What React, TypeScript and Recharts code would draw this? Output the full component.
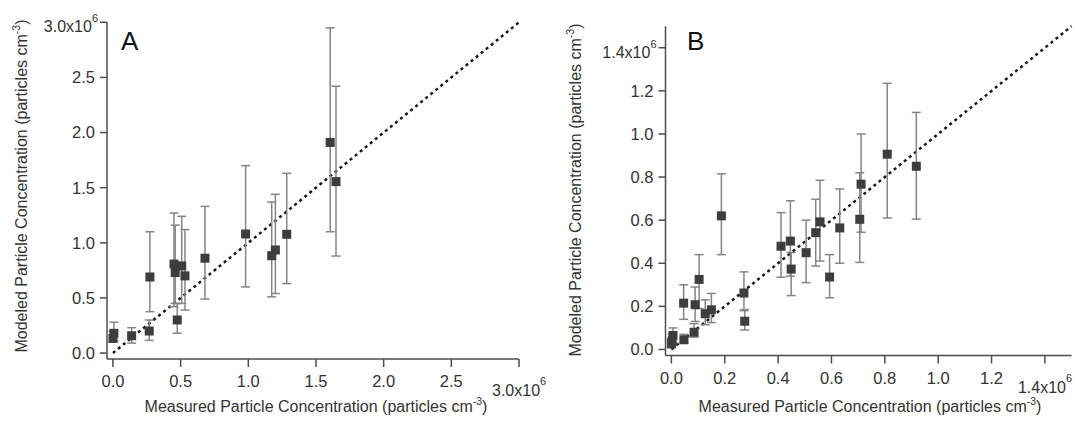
import React from "react";
import {
  ScatterChart,
  Scatter,
  XAxis,
  YAxis,
  ErrorBar,
  ReferenceLine
} from "recharts";

// Panel A: measured vs modeled particle concentration (particles cm-3)
const aMeasured = [0.007e6, 0.0, 0.138e6, 0.268e6, 0.273e6, 0.451e6, 0.46e6, 0.475e6, 0.508e6, 0.532e6, 0.68e6, 0.98e6, 1.173e6, 1.2e6, 1.284e6, 1.605e6, 1.648e6];
const aModeled = [0.179e6, 0.133e6, 0.157e6, 0.2e6, 0.69e6, 0.807e6, 0.73e6, 0.3e6, 0.79e6, 0.70e6, 0.86e6, 1.08e6, 0.883e6, 0.935e6, 1.077e6, 1.91e6, 1.555e6];
const aLow = [0.11e6, 0.1e6, 0.09e6, 0.115e6, 0.375e6, 0.42e6, 0.45e6, 0.18e6, 0.45e6, 0.39e6, 0.49e6, 0.6e6, 0.51e6, 0.54e6, 0.63e6, 1.1e6, 0.88e6];
const aHigh = [0.28e6, 0.2e6, 0.23e6, 0.3e6, 1.1e6, 1.27e6, 1.16e6, 0.45e6, 1.24e6, 1.12e6, 1.33e6, 1.7e6, 1.37e6, 1.44e6, 1.63e6, 2.95e6, 2.42e6];
const aTicks = [0, 0.5e6, 1.0e6, 1.5e6, 2.0e6, 2.5e6, 3.0e6];

// Panel B
const bMeasured = [0.0, 0.006e6, 0.003e6, 0.047e6, 0.046e6, 0.085e6, 0.089e6, 0.104e6, 0.127e6, 0.15e6, 0.1875e6, 0.272e6, 0.275e6, 0.411e6, 0.446e6, 0.449e6, 0.505e6, 0.541e6, 0.557e6, 0.593e6, 0.631e6, 0.706e6, 0.711e6, 0.809e6, 0.918e6];
const bModeled = [0.026e6, 0.065e6, 0.04e6, 0.045e6, 0.215e6, 0.08e6, 0.208e6, 0.325e6, 0.166e6, 0.184e6, 0.62e6, 0.262e6, 0.131e6, 0.479e6, 0.503e6, 0.373e6, 0.449e6, 0.542e6, 0.592e6, 0.336e6, 0.564e6, 0.604e6, 0.767e6, 0.906e6, 0.85e6];
const bLow = [0.01e6, 0.03e6, 0.02e6, 0.03e6, 0.14e6, 0.057e6, 0.13e6, 0.19e6, 0.115e6, 0.125e6, 0.44e6, 0.18e6, 0.09e6, 0.335e6, 0.34e6, 0.25e6, 0.31e6, 0.387e6, 0.41e6, 0.24e6, 0.4e6, 0.404e6, 0.544e6, 0.61e6, 0.605e6];
const bHigh = [0.05e6, 0.1e6, 0.07e6, 0.07e6, 0.3e6, 0.12e6, 0.29e6, 0.44e6, 0.23e6, 0.26e6, 0.815e6, 0.36e6, 0.185e6, 0.635e6, 0.69e6, 0.45e6, 0.6e6, 0.697e6, 0.785e6, 0.44e6, 0.745e6, 0.82e6, 1.0e6, 1.235e6, 1.1e6];
const bTicks = [0, 0.2e6, 0.4e6, 0.6e6, 0.8e6, 1.0e6, 1.2e6, 1.4e6];

const FONT = "'Liberation Sans', Arial, Helvetica, sans-serif";
const AXIS = "#4d4d4d";
const TXT = "#333";
const TICK_FS = 16.5;

function rows(xs: number[], ys: number[], lo: number[], hi: number[]) {
  return xs.map((x, i) => ({ x, y: ys[i], err: [ys[i] - lo[i], hi[i] - ys[i]] }));
}

const fmt = (v: number) => (v / 1e6).toFixed(1);

function XTick(props: any) {
  const { x, y, payload, last } = props;
  if (payload.value === last) {
    return (
      <text x={x - 27} y={y + 29} fill={TXT} fontSize={TICK_FS - 0.5} fontFamily={FONT}>
        {fmt(payload.value)}x10
        <tspan dy={-11} fontSize={11}>6</tspan>
      </text>
    );
  }
  return (
    <text x={x} y={y + 20} textAnchor="middle" fill={TXT} fontSize={TICK_FS} fontFamily={FONT}>
      {fmt(payload.value)}
    </text>
  );
}

function YTick(props: any) {
  const { x, y, payload, last } = props;
  if (payload.value === last) {
    return (
      <text x={x + 3} y={y + 10} textAnchor="end" fill={TXT} fontSize={TICK_FS - 0.5} fontFamily={FONT}>
        {fmt(payload.value)}x10
        <tspan dy={-10} fontSize={11}>6</tspan>
      </text>
    );
  }
  return (
    <text x={x} y={y} dy="0.36em" textAnchor="end" fill={TXT} fontSize={TICK_FS} fontFamily={FONT}>
      {fmt(payload.value)}
    </text>
  );
}

const Square = (p: any) => (
  <rect x={p.cx - 4.5} y={p.cy - 4.5} width={9} height={9} fill="#3d3d3d" />
);

type PanelProps = {
  data: { x: number; y: number; err: number[] }[];
  width: number;
  margin: { top: number; left: number; right: number; bottom: number };
  xDomain: number[];
  yDomain: number[];
  ticks: number[];
  max: number;
};

function Panel({ data, width, margin, xDomain, yDomain, ticks, max }: PanelProps) {
  const last = ticks[ticks.length - 1];
  return (
    <ScatterChart width={width} height={424} margin={margin}>
      <XAxis
        type="number"
        dataKey="x"
        domain={xDomain}
        ticks={ticks}
        interval={0}
        allowDataOverflow
        height={40}
        tickSize={8}
        tickMargin={0}
        axisLine={{ stroke: AXIS, strokeWidth: 1.5 }}
        tickLine={{ stroke: AXIS, strokeWidth: 1.5 }}
        tick={(p: any) => <XTick {...p} last={last} />}
      />
      <YAxis
        type="number"
        dataKey="y"
        domain={yDomain}
        ticks={ticks}
        interval={0}
        allowDataOverflow
        width={60}
        tickSize={7}
        tickMargin={5}
        axisLine={{ stroke: AXIS, strokeWidth: 1.5 }}
        tickLine={{ stroke: AXIS, strokeWidth: 1.5 }}
        tick={(p: any) => <YTick {...p} last={last} />}
      />
      <ReferenceLine
        segment={[{ x: 0, y: 0 }, { x: max, y: max }]}
        stroke="#1a1a1a"
        strokeWidth={2.5}
        strokeDasharray="3 3.5"
        ifOverflow="visible"
      />
      <Scatter data={data} shape={Square} isAnimationActive={false}>
        <ErrorBar dataKey="err" direction="y" width={4.5} stroke="#858585" strokeWidth={1.5} />
      </Scatter>
    </ScatterChart>
  );
}

export default function App() {
  const dataA = rows(aMeasured, aModeled, aLow, aHigh);
  const dataB = rows(bMeasured, bModeled, bLow, bHigh);

  return (
    <div style={{ position: "absolute", left: 0, top: 0, width: 1075, height: 424, background: "#fff", overflow: "hidden" }}>
      <div style={{ position: "absolute", left: 0, top: 0 }}>
        <Panel
          data={dataA}
          width={560}
          margin={{ top: 22.3, left: 47, right: 41, bottom: 25 }}
          xDomain={[-0.044e6, 3.0e6]}
          yDomain={[-0.054e6, 3.0e6]}
          ticks={aTicks}
          max={3.0e6}
        />
      </div>
      <div style={{ position: "absolute", left: 540, top: 0 }}>
        <Panel
          data={dataB}
          width={535}
          margin={{ top: 26.2, left: 65.5, right: 3.4, bottom: 28.5 }}
          xDomain={[-0.022e6, 1.5e6]}
          yDomain={[-0.028e6, 1.5e6]}
          ticks={bTicks}
          max={1.5e6}
        />
      </div>
      <svg width={1075} height={424} style={{ position: "absolute", left: 0, top: 0, pointerEvents: "none" }} fontFamily={FONT} fill={TXT}>
        <text x={121} y={50} fontSize={26} fill="#111">A</text>
        <text x={687} y={50} fontSize={26} fill="#111">B</text>
        <text transform="translate(27,186) rotate(-90)" textAnchor="middle" fontSize={16}>
          Modeled Particle Concentration (particles cm<tspan dy={-7} fontSize={10.5}>-3</tspan><tspan dy={7}>)</tspan>
        </text>
        <text transform="translate(581,190) rotate(-90)" textAnchor="middle" fontSize={16}>
          Modeled Particle Concentration (particles cm<tspan dy={-7} fontSize={10.5}>-3</tspan><tspan dy={7}>)</tspan>
        </text>
        <text x={316} y={412} textAnchor="middle" fontSize={16}>
          Measured Particle Concentration (particles cm<tspan dy={-7} fontSize={10.5}>-3</tspan><tspan dy={7}>)</tspan>
        </text>
        <text x={870} y={412} textAnchor="middle" fontSize={16}>
          Measured Particle Concentration (particles cm<tspan dy={-7} fontSize={10.5}>-3</tspan><tspan dy={7}>)</tspan>
        </text>
      </svg>
    </div>
  );
}
